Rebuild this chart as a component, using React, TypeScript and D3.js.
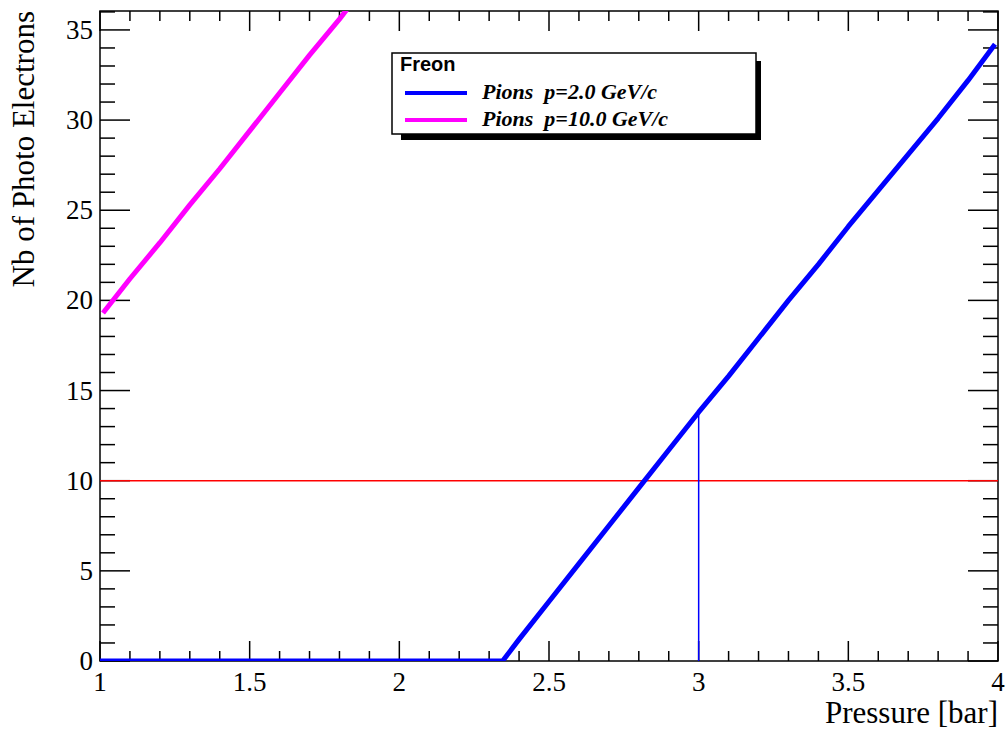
import React from "react";
import * as d3 from "d3";

const xDomain = [1, 4];
const yDomain = [0, 36.05];
const xMajorTicks = [1, 1.5, 2, 2.5, 3, 3.5, 4];
const xTickLabels = ["1", "1.5", "2", "2.5", "3", "3.5", "4"];
const yMajorTicks = [0, 5, 10, 15, 20, 25, 30, 35];
const yTickLabels = ["0", "5", "10", "15", "20", "25", "30", "35"];

// Pions p=2.0 GeV/c
const pion2X = [1.0, 2.0, 2.345, 2.4, 2.5, 2.6, 2.7, 2.8, 2.9, 3.0, 3.1, 3.2, 3.3, 3.4, 3.5, 3.6, 3.7, 3.8, 3.9, 3.99];
const pion2Y = [0, 0, 0, 1.2, 3.3, 5.4, 7.5, 9.6, 11.7, 13.8, 15.8, 17.9, 20.0, 22.0, 24.1, 26.1, 28.1, 30.1, 32.2, 34.2];
// Pions p=10.0 GeV/c
const pion10X = [1.01, 1.1, 1.2, 1.3, 1.4, 1.5, 1.6, 1.7, 1.8, 1.86];
const pion10Y = [19.3, 21.2, 23.2, 25.3, 27.3, 29.4, 31.5, 33.6, 35.6, 36.9];

const thresholdY = 10;
const markerX = 3.0;
const markerY = 13.8;

const legendTitle = "Freon";
const legendLabels = ["Pions  p=2.0 GeV/c", "Pions  p=10.0 GeV/c"];
const seriesColors = ["#0000ff", "#ff00ff"];

export default function App() {
  const W = 1006, H = 733;
  const L = 100, R = 998, T = 11, B = 661;
  const x = d3.scaleLinear().domain(xDomain).range([L, R]);
  const y = d3.scaleLinear().domain(yDomain).range([B, T]);
  const xMinor = d3.range(10, 41).map((v) => v / 10);
  const yMinor = d3.range(0, 37);
  const line = d3.line<[number, number]>().x((d) => x(d[0])).y((d) => y(d[1]));
  const p2: [number, number][] = pion2X.map((v, i) => [v, pion2Y[i]]);
  const p10: [number, number][] = pion10X.map((v, i) => [v, pion10Y[i]]);
  const serif = "'Liberation Serif', 'Times New Roman', serif";
  const sans = "'Liberation Sans', Arial, sans-serif";

  return (
    <svg width={W} height={H} style={{ position: "absolute", left: 0, top: 0, background: "#fff" }}>
      <defs>
        <clipPath id="plot">
          <rect x={L} y={T} width={R - L} height={B - T} />
        </clipPath>
      </defs>
      <rect x={0} y={0} width={W} height={H} fill="#fff" />
      {/* ticks */}
      <g stroke="#000" strokeWidth={1.5}>
        {xMinor.map((v, i) => {
          const major = Math.abs(v * 2 - Math.round(v * 2)) < 1e-6;
          const len = major ? 20 : 10;
          return (
            <g key={"xt" + i}>
              <line x1={x(v)} x2={x(v)} y1={B} y2={B - len} />
              <line x1={x(v)} x2={x(v)} y1={T} y2={T + len} />
            </g>
          );
        })}
        {yMinor.map((v, i) => {
          const major = v % 5 === 0;
          const len = major ? 30 : 15;
          return (
            <g key={"yt" + i}>
              <line x1={L} x2={L + len} y1={y(v)} y2={y(v)} />
              <line x1={R} x2={R - len} y1={y(v)} y2={y(v)} />
            </g>
          );
        })}
      </g>
      <rect x={L} y={T} width={R - L} height={B - T} fill="none" stroke="#000" strokeWidth={1.5} />
      <g clipPath="url(#plot)">
        <line x1={x(xDomain[0])} x2={x(xDomain[1])} y1={y(thresholdY)} y2={y(thresholdY)} stroke="#ff0000" strokeWidth={1.5} />
        <line x1={x(markerX)} x2={x(markerX)} y1={y(0)} y2={y(markerY)} stroke="#0000ff" strokeWidth={1.5} />
        <path d={line(p2) || ""} fill="none" stroke={seriesColors[0]} strokeWidth={5} strokeLinejoin="round" />
        <path d={line(p10) || ""} fill="none" stroke={seriesColors[1]} strokeWidth={5} strokeLinejoin="round" />
      </g>
      {/* tick labels */}
      <g fontFamily={serif} fontSize={27} fill="#000">
        {xMajorTicks.map((v, i) => (
          <text key={"xl" + i} x={x(v)} y={691} textAnchor="middle">{xTickLabels[i]}</text>
        ))}
        {yMajorTicks.map((v, i) => (
          <text key={"yl" + i} x={93} y={y(v) + 9} textAnchor="end">{yTickLabels[i]}</text>
        ))}
      </g>
      <text x={R} y={723} textAnchor="end" fontFamily={serif} fontSize={31}>Pressure [bar]</text>
      <text transform={`translate(34, ${T}) rotate(-90)`} textAnchor="end" fontFamily={serif} fontSize={31}>Nb of Photo Electrons</text>
      {/* legend */}
      <rect x={401} y={61} width={360} height={79} fill="#000" />
      <rect x={392} y={53} width={364} height={81} fill="#fff" stroke="#000" strokeWidth={1.5} />
      <text x={400} y={71} fontFamily={sans} fontWeight="bold" fontSize={20}>{legendTitle}</text>
      {legendLabels.map((lab, i) => (
        <g key={"lg" + i}>
          <line x1={405} x2={467} y1={93 + i * 27} y2={93 + i * 27} stroke={seriesColors[i]} strokeWidth={4} />
          <text x={482} y={99 + i * 27} fontFamily={serif} fontStyle="italic" fontWeight="bold" fontSize={22} style={{ whiteSpace: "pre" }}>{lab}</text>
        </g>
      ))}
    </svg>
  );
}
